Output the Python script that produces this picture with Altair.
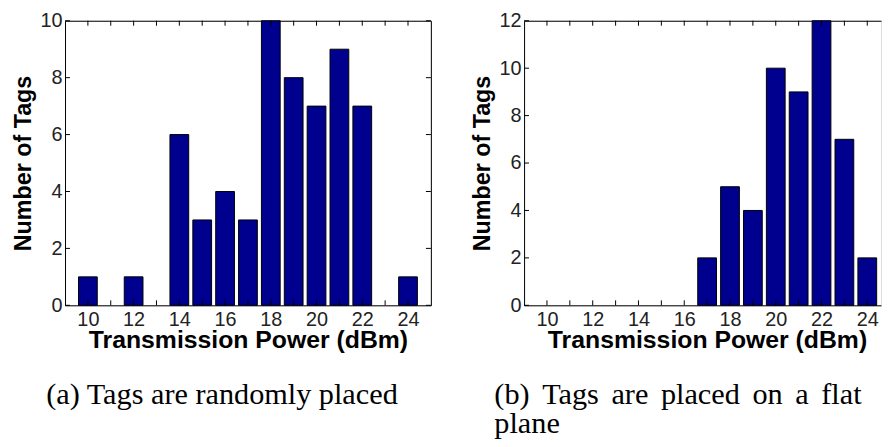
import altair as alt
import pandas as pd

# ---- data ----
power = [10, 11, 12, 13, 14, 15, 16, 17, 18, 19, 20, 21, 22, 23, 24]
counts_random = [1, 0, 1, 0, 6, 3, 4, 3, 10, 8, 7, 9, 7, 0, 1]
counts_flat = [0, 0, 0, 0, 0, 0, 0, 2, 5, 4, 10, 9, 12, 7, 2]
x_tick_values = [10, 11, 12, 13, 14, 15, 16, 17, 18, 19, 20, 21, 22, 23, 24]
x_label_values = [10, 12, 14, 16, 18, 20, 22, 24]
y_ticks_left = [0, 2, 4, 6, 8, 10]
y_ticks_right = [0, 2, 4, 6, 8, 10, 12]
caption_a = "(a) Tags are randomly placed"
SP = " \u2006"
caption_b = [SP.join(["(b)", "Tags", "are", "placed", "on", "a", "flat"]), "plane"]

BAR = "#00008F"
SANS = "Liberation Sans"
SERIF = "Liberation Serif"
H = 287
TICK = 5
HALF = 0.41
PX_PER_UNIT = 369 / 16


def panel(counts, ymax, yticks, xmax, caption, cap_dx, right_axis):
    width = round((xmax - 9) * PX_PER_UNIT)
    df = pd.DataFrame({"p": power, "n": counts})
    xs = alt.Scale(domain=[9, xmax], nice=False, zero=False)
    ys = alt.Scale(domain=[0, ymax], nice=False)
    full_w = 16 * PX_PER_UNIT

    bottom_axis = alt.Axis(
        orient="bottom", values=x_label_values, tickSize=0, grid=False,
        labelFont=SANS, labelFontSize=20, labelColor="#222", labelPadding=4,
        domainColor="black", domainWidth=1, minExtent=0,
        title="Transmission Power (dBm)", titleFont=SANS, titleFontSize=25,
        titleFontWeight="bold", titleColor="black", titlePadding=-1,
        titleX=full_w / 2, titleAlign="center",
    )
    left_axis = alt.Axis(
        orient="left", values=yticks, tickSize=0, grid=False,
        labelFont=SANS, labelFontSize=20, labelColor="#222", labelPadding=3,
        domainColor="black", domainWidth=1, minExtent=0,
        title="Number of Tags", titleFont=SANS, titleFontSize=23.5,
        titleFontWeight="bold", titleColor="black", titlePadding=4.5,
    )
    top_axis = alt.Axis(orient="top", labels=False, ticks=False, grid=False,
                        domainColor="black", domainWidth=1, title=None,
                        minExtent=0, maxExtent=0)
    right_ax = alt.Axis(orient="right", labels=False, ticks=False, grid=False,
                        domainColor="black", domainWidth=1, title=None,
                        minExtent=0, maxExtent=0)

    bars = (
        alt.Chart(df)
        .transform_filter("datum.n > 0")
        .transform_calculate(x0=f"datum.p - {HALF}", x1=f"datum.p + {HALF}")
        .mark_bar(color=BAR, stroke="black", strokeWidth=1)
        .encode(
            x=alt.X("x0:Q", scale=xs, axis=bottom_axis),
            x2="x1:Q",
            y=alt.Y("n:Q", scale=ys, axis=left_axis),
            y2=alt.datum(0),
        )
    )
    xt = pd.DataFrame({"t": x_tick_values})
    yt = pd.DataFrame({"v": yticks})
    top_ticks = alt.Chart(xt).mark_rule(color="black").encode(
        x=alt.X("t:Q", scale=xs, axis=top_axis),
        y=alt.value(0), y2=alt.value(TICK))
    bot_ticks = alt.Chart(xt).mark_rule(color="black").encode(
        x=alt.X("t:Q", scale=xs, axis=None),
        y=alt.value(H), y2=alt.value(H - TICK))
    left_ticks = alt.Chart(yt).mark_rule(color="black").encode(
        y=alt.Y("v:Q", scale=ys, axis=None),
        x=alt.value(0), x2=alt.value(TICK))
    layers = [bars, top_ticks, bot_ticks, left_ticks]
    if right_axis:
        right_ticks = alt.Chart(yt).mark_rule(color="black").encode(
            y=alt.Y("v:Q", scale=ys, axis=right_ax),
            x=alt.value(width), x2=alt.value(width - TICK))
        layers.append(right_ticks)
    return (
        alt.layer(*layers)
        .resolve_axis(x="independent", y="independent")
        .properties(
            width=width, height=H,
            title=alt.TitleParams(
                text=caption, orient="bottom", anchor="start", frame="group",
                font=SERIF, fontSize=30.5, fontWeight="normal", color="black",
                dx=cap_dx, offset=28, lineHeight=29,
            ),
        )
    )


left = panel(counts_random, 10, y_ticks_left, 25, caption_a, -19, True)
right = panel(counts_flat, 12, y_ticks_right, 24.6, caption_b, -30, False)

chart = (
    alt.hconcat(left, right, spacing=38)
    .properties(padding={"left": 2.5, "top": 0, "right": 0, "bottom": 0})
    .configure_view(stroke=None)
    .configure(background="white")
)

chart.save("out.html", embed_options={"renderer": "svg", "actions": False})
